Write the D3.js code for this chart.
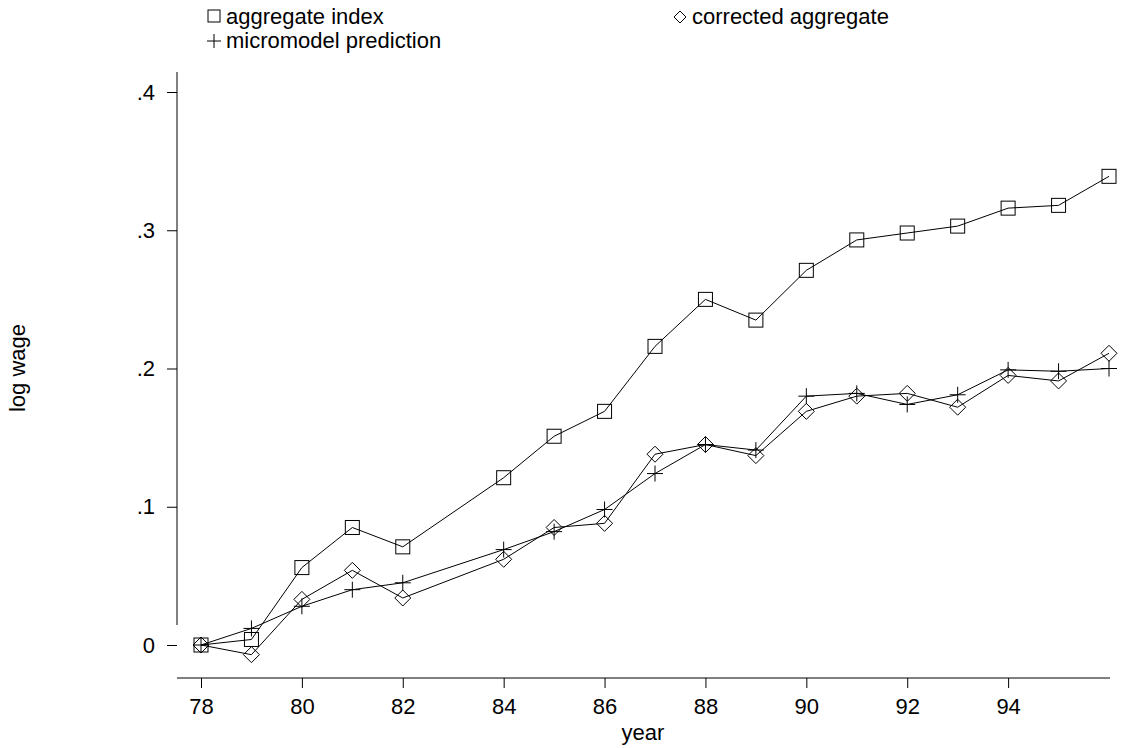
<!DOCTYPE html><html><head><script src="https://cdn.jsdelivr.net/npm/d3@7"></script>
<style>body{margin:0;background:#fff}text{font-family:"Liberation Sans",Arial,sans-serif;fill:#000}</style></head><body>
<svg id="c" width="1123" height="748"></svg>
<script>
const years=[78,79,80,81,82,84,85,86,87,88,89,90,91,92,93,94,95,96];
const aggregate=[0,0.004,0.056,0.085,0.071,0.121,0.151,0.169,0.216,0.250,0.235,0.271,0.293,0.298,0.303,0.316,0.318,0.339];
const corrected=[0,-0.007,0.033,0.054,0.034,0.062,0.085,0.088,0.138,0.145,0.137,0.169,0.180,0.182,0.172,0.195,0.191,0.211];
const micro=[0,0.012,0.028,0.040,0.045,0.069,0.082,0.098,0.124,0.145,0.141,0.180,0.182,0.174,0.181,0.199,0.198,0.200];
const xTicks=[78,80,82,84,86,88,90,92,94];
const yTicks=[0,0.1,0.2,0.3,0.4];
const yLabels=["0",".1",".2",".3",".4"];
const svg=d3.select("#c");
const x=d3.scaleLinear().domain([78,96]).range([201,1109]);
const y=d3.scaleLinear().domain([0,0.4]).range([645,92]);
const ax=svg.append("g").attr("transform","translate(0,678)").call(d3.axisBottom(x).tickValues(xTicks).tickFormat(d3.format("d")).tickSize(10).tickPadding(6).tickSizeOuter(0));
ax.select(".domain").attr("d","M177,0H1110");
const ay=svg.append("g").attr("transform","translate(177,0)").call(d3.axisLeft(y).tickValues(yTicks).tickFormat((d,i)=>yLabels[i]).tickSize(10).tickPadding(12).tickSizeOuter(0));
ay.select(".domain").attr("d","M0,72V625");
svg.selectAll(".tick text").attr("font-size",22).style("font-family","Liberation Sans, Arial");
ax.selectAll(".tick text").attr("dy","0.9em");
svg.selectAll(".tick line,.domain").attr("stroke","#000");
svg.append("text").attr("x",643).attr("y",740).attr("text-anchor","middle").attr("font-size",22).text("year");
svg.append("text").attr("transform","translate(25,368) rotate(-90)").attr("text-anchor","middle").attr("font-size",22).text("log wage");
const line=d3.line().x((d,i)=>x(years[i])).y(d=>y(d));
[aggregate,corrected,micro].forEach(s=>svg.append("path").attr("d",line(s)).attr("fill","none").attr("stroke","#000").attr("stroke-width",1));
function sq(g,cx,cy,r){g.append("rect").attr("x",cx-r).attr("y",cy-r).attr("width",2*r).attr("height",2*r).attr("fill","none").attr("stroke","#000");}
function di(g,cx,cy,r){g.append("path").attr("d",`M${cx},${cy-r}L${cx+r},${cy}L${cx},${cy+r}L${cx-r},${cy}Z`).attr("fill","none").attr("stroke","#000");}
function pl(g,cx,cy,r){g.append("path").attr("d",`M${cx-r},${cy}H${cx+r}M${cx},${cy-r}V${cy+r}`).attr("stroke","#000");}
aggregate.forEach((d,i)=>sq(svg,x(years[i]),y(d),7));
corrected.forEach((d,i)=>di(svg,x(years[i]),y(d),8));
micro.forEach((d,i)=>pl(svg,x(years[i]),y(d),8));
sq(svg,214,16,6);svg.append("text").attr("x",226).attr("y",24).attr("font-size",22).text("aggregate index");
di(svg,680,17,6);svg.append("text").attr("x",692).attr("y",24).attr("font-size",22).text("corrected aggregate");
pl(svg,214,41,7);svg.append("text").attr("x",226).attr("y",48).attr("font-size",22).text("micromodel prediction");
</script></body></html>
